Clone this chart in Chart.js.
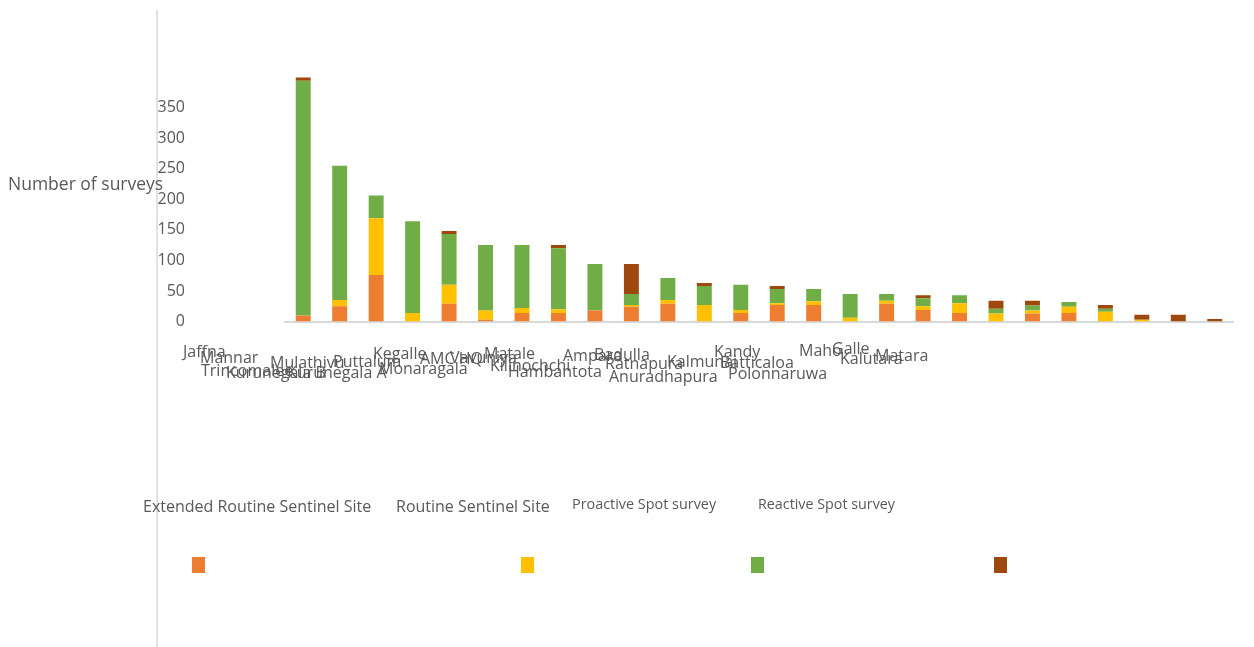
<!DOCTYPE html>
<html>
<head>
<meta charset="utf-8">
<script src="https://cdn.jsdelivr.net/npm/chart.js@4/dist/chart.umd.min.js"></script>
<style>
  html, body { margin: 0; padding: 0; background: #fff; }
  canvas { display: block; }
</style>
</head>
<body>
<canvas id="surveys" width="1254" height="647"></canvas>
<script>
// survey counts per region, bars sorted by total
const regions = ['Jaffna', 'Mannar', 'Trincomalee', 'Kurunegala B', 'Mulathivu', 'Kurunegala A',
  'Puttalum', 'Kegalle', 'Monaragala', 'AMC HQ', 'Vavuniya', 'Matale', 'Kilinochchi', 'Hambantota',
  'Ampara', 'Badulla', 'Ratnapura', 'Anuradhapura', 'Kalmunai', 'Kandy', 'Batticaloa', 'Polonnaruwa',
  'Maho', 'Galle', 'Kalutara', 'Matara'];

const seriesNames = ['Extended Routine Sentinel Site', 'Routine Sentinel Site', 'Proactive Spot survey', 'Reactive Spot survey'];

const extendedRoutine = [10, 25, 76, 0, 29, 3, 14, 14, 18, 24, 29, 0, 14, 27, 27, 0, 29, 19, 14, 0, 13, 14, 0, 0, 0, 0];
const routine         = [0, 10, 93, 14, 31, 15, 8, 6, 0, 3, 6, 27, 5, 3, 6, 6, 5, 6, 16, 13, 5, 10, 16, 3, 0, 0];
const proactive       = [384, 220, 37, 150, 83, 107, 103, 100, 76, 18, 36, 31, 41, 23, 20, 39, 11, 13, 13, 8, 8, 8, 5, 0, 0, 0];
const reactive        = [5, 0, 0, 0, 5, 0, 0, 5, 0, 49, 0, 5, 0, 5, 0, 0, 0, 5, 0, 13, 8, 0, 6, 8, 11, 4];

const yTicks = [0, 50, 100, 150, 200, 250, 300, 350];

const colors = ['#ED7D31', '#FFC000', '#70AD47', '#9E480E'];
const textColor = '#595959';
const fontFamily = '"Open Sans", "Noto Sans", sans-serif';

// where the region names land (left x, middle y) - they pile up under the first bars
const labelSpots = [
  [183, 352], [200, 358], [201, 371], [226, 373], [270, 363], [287, 373],
  [333, 362], [373, 354], [379, 369], [420, 359], [450, 358], [484, 354],
  [490, 366], [508, 372], [563, 356], [594, 355], [605, 364], [609, 377],
  [667, 362], [714, 352], [720, 363], [728, 374], [799, 351], [832, 349],
  [840, 359], [875, 356]
];

// legend: names on one row, swatches on another row below
const legendText = [[143, 507, 16], [396, 507, 16], [572, 505, 14.4], [758, 505, 14.3]];
const legendBoxes = [192, 521, 751, 994];

const decor = {
  id: 'decor',
  afterDraw(chart) {
    const ctx = chart.ctx;
    ctx.save();

    // long axis line on the left
    ctx.strokeStyle = '#d9d9d9';
    ctx.lineWidth = 1.5;
    ctx.beginPath();
    ctx.moveTo(157, 10);
    ctx.lineTo(157, 647);
    ctx.stroke();

    ctx.fillStyle = textColor;
    ctx.textBaseline = 'middle';
    ctx.textAlign = 'left';

    ctx.font = `17.5px ${fontFamily}`;
    ctx.fillText('Number of surveys', 8, 185);

    ctx.font = `16px ${fontFamily}`;
    regions.forEach((name, i) => {
      const [x, y] = labelSpots[i];
      ctx.fillText(name, x, y);
    });

    seriesNames.forEach((name, i) => {
      const [x, y, size] = legendText[i];
      ctx.font = `${size}px ${fontFamily}`;
      ctx.fillStyle = textColor;
      ctx.fillText(name, x, y);
      ctx.fillStyle = colors[i];
      ctx.fillRect(legendBoxes[i], 557, 13, 16);
    });

    ctx.restore();
  }
};

const datasets = [extendedRoutine, routine, proactive, reactive].map((values, i) => ({
  label: seriesNames[i],
  data: values,
  backgroundColor: colors[i],
  borderWidth: 0,
  barPercentage: 0.41,
  categoryPercentage: 1
}));

new Chart(document.getElementById('surveys'), {
  type: 'bar',
  data: { labels: regions, datasets: datasets },
  options: {
    responsive: false,
    animation: false,
    layout: { padding: { left: 157, right: 21, top: 77, bottom: 325.5 } },
    plugins: {
      legend: { display: false },
      tooltip: { enabled: false }
    },
    scales: {
      x: {
        stacked: true,
        grid: { display: false, drawTicks: false },
        ticks: { display: false },
        border: { display: true, color: '#d9d9d9', width: 2 },
        afterFit: (scale) => { scale.height = 0; }
      },
      y: {
        stacked: true,
        min: 0,
        max: 400,
        grid: { display: false, drawTicks: false },
        border: { display: false },
        ticks: {
          stepSize: 50,
          padding: 100,
          color: textColor,
          font: { family: fontFamily, size: 16 }
        },
        afterBuildTicks: (scale) => {
          scale.ticks = yTicks.map(v => ({ value: v }));
        },
        afterFit: (scale) => {
          // the big tick padding is only meant to push labels sideways
          scale.width = 128;
          scale.paddingTop = 0;
          scale.paddingBottom = 0;
        }
      }
    }
  },
  plugins: [decor]
});
</script>
</body>
</html>
